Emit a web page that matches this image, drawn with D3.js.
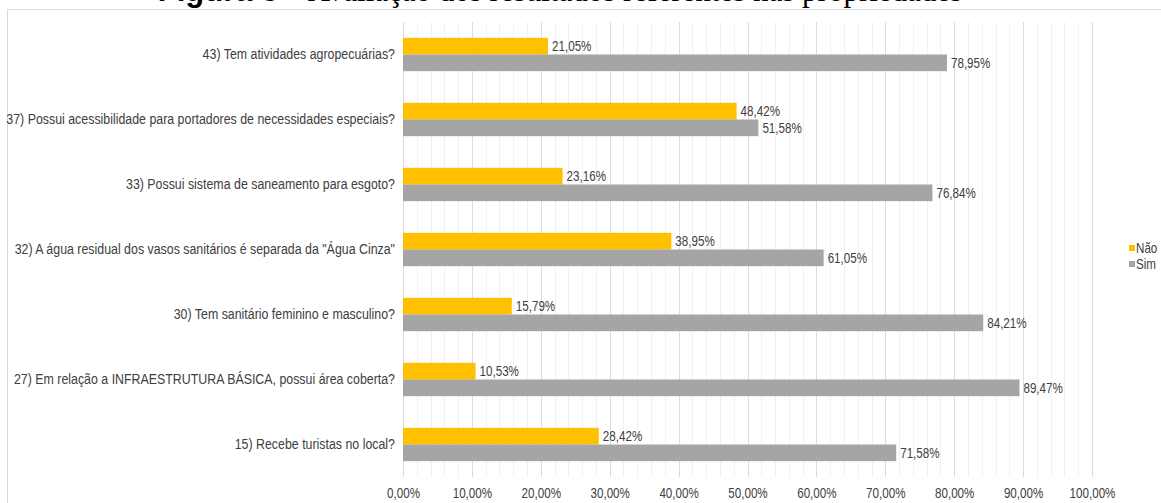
<!DOCTYPE html>
<html>
<head>
<meta charset="utf-8">
<script src="https://cdn.jsdelivr.net/npm/d3@7"></script>
<style>
  body { margin: 0; background: #fff; }
  svg text { font-family: "Liberation Sans", Arial, sans-serif; }
</style>
</head>
<body>
<div id="Chart"></div>
<script>
// perguntas (de cima para baixo)
var questions = [
    '43) Tem atividades agropecuárias?',
    '37) Possui acessibilidade para portadores de necessidades especiais?',
    '33) Possui sistema de saneamento para esgoto?',
    '32) A água residual dos vasos sanitários é separada da "Água Cinza"',
    '30) Tem sanitário feminino e masculino?',
    '27) Em relação a INFRAESTRUTURA BÁSICA, possui área coberta?',
    '15) Recebe turistas no local?'
];
var nao = [21.05, 48.42, 23.16, 38.95, 15.79, 10.53, 28.42];
var sim = [78.95, 51.58, 76.84, 61.05, 84.21, 89.47, 71.58];
var seriesNames = ['Não', 'Sim'];
var seriesColors = ['#FFC000', '#A5A5A5'];
var xTicks = [0, 10, 20, 30, 40, 50, 60, 70, 80, 90, 100];
var titleBold = 'Figura 5';
var titleRest = ' – Avaliação dos resultados referentes nas propriedades';

window.onload = function() {
    var width = 1161;
    var height = 503;
    var left = 403, right = 1092, top = 22, bottom = 477;
    var squeeze = 0.83; // imita Arial Narrow
    var squeezeLabel = 0.885;

    var fmt = function(v) { return v.toFixed(2).replace('.', ',') + '%'; };

    const svg = d3.select('#Chart')
        .append('svg')
        .attr('width', width)
        .attr('height', height);

    // titulo cortado no topo
    var t = svg.append('text')
        .attr('x', 560).attr('y', 1)
        .attr('text-anchor', 'middle')
        .style('font-family', '"Liberation Serif", serif')
        .style('font-size', '31px')
        .style('fill', '#000');
    t.append('tspan').style('font-weight', 'bold').style('font-family', '"Liberation Sans", sans-serif').text(titleBold);
    t.append('tspan').text(titleRest);

    // moldura
    svg.append('rect')
        .attr('x', 7.5).attr('y', 9.5)
        .attr('width', 1300).attr('height', 600)
        .attr('fill', 'none').attr('stroke', '#d9d9d9');

    const x = d3.scaleLinear().domain([0, 100]).range([left, right]);
    const y = d3.scaleBand().domain(d3.range(questions.length)).range([top, bottom]);
    const inner = d3.scaleBand().domain([0, 1]).range([0, y.bandwidth()]).paddingOuter(0.95).paddingInner(0);

    // grade secundaria e principal
    svg.append('g')
        .selectAll('line')
        .data(d3.range(0, 101, 2))
        .join('line')
        .attr('x1', d => Math.round(x(d)) + 0.5).attr('x2', d => Math.round(x(d)) + 0.5)
        .attr('y1', top).attr('y2', bottom)
        .attr('stroke', d => d % 10 == 0 ? '#dcdcdc' : '#f0f0f0');

    var rows = questions.map(function(q, i) { return { q: q, vals: [nao[i], sim[i]] }; });

    const groups = svg.append('g')
        .selectAll('g')
        .data(rows)
        .join('g')
        .attr('transform', (d, i) => `translate(0,${y(i)})`);

    groups.selectAll('rect')
        .data(d => d.vals)
        .join('rect')
        .attr('x', x(0))
        .attr('y', (d, j) => inner(j))
        .attr('width', d => x(d) - x(0))
        .attr('height', inner.bandwidth())
        .attr('fill', (d, j) => seriesColors[j]);

    groups.selectAll('text.val')
        .data(d => d.vals)
        .join('text')
        .attr('class', 'val')
        .attr('transform', (d, j) => `translate(${x(d) + 4},${inner(j) + inner.bandwidth() / 2}) scale(${squeeze},1)`)
        .attr('dy', '0.35em')
        .style('font-size', '14px')
        .style('fill', '#404040')
        .text(d => fmt(d));

    groups.append('text')
        .attr('transform', `translate(${left - 8},${y.bandwidth() / 2}) scale(${squeezeLabel},1)`)
        .attr('dy', '0.35em')
        .attr('text-anchor', 'end')
        .style('font-size', '14px')
        .style('fill', '#404040')
        .text(d => d.q);

    // eixo x
    const xAxis = svg.append('g')
        .attr('transform', `translate(0,${bottom})`)
        .call(d3.axisBottom(x).tickValues(xTicks).tickSize(0).tickPadding(11).tickFormat(fmt));
    xAxis.select('.domain').remove();
    xAxis.selectAll('text')
        .attr('transform', `scale(${squeeze},1)`)
        .style('font-size', '14px')
        .style('fill', '#404040')
        .style('font-family', '"Liberation Sans", Arial, sans-serif');

    // legenda
    const legend = svg.append('g')
        .selectAll('g')
        .data(seriesNames)
        .join('g')
        .attr('transform', (d, i) => `translate(1129,${248 + i * 16})`);
    legend.append('rect')
        .attr('x', 0).attr('y', -3)
        .attr('width', 6).attr('height', 6)
        .attr('fill', (d, i) => seriesColors[i]);
    legend.append('text')
        .attr('transform', `translate(7,0) scale(${squeeze},1)`)
        .attr('dy', '0.35em')
        .style('font-size', '14px')
        .style('fill', '#404040')
        .text(d => d);
};
</script>
</body>
</html>
